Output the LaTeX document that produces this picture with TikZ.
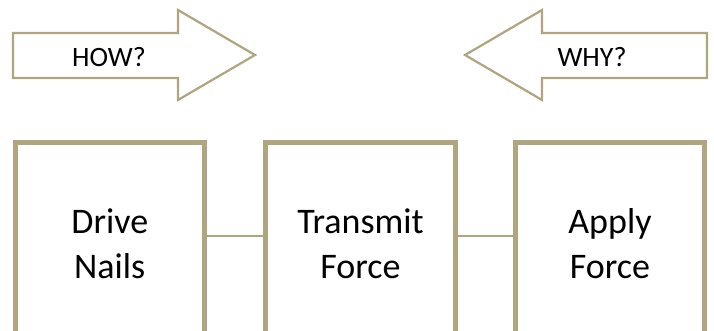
\documentclass[tikz,border=0pt]{standalone}
\usepackage{fontspec}
\setmainfont{Carlito}
\definecolor{tan}{RGB}{176,165,126}
\begin{document}
\begin{tikzpicture}[x=1pt,y=-1pt,
  boxnode/.style={draw=tan,line width=5pt,minimum width=189.5pt,minimum height=202pt,
    align=center,inner sep=0pt,font=\fontsize{36}{45}\selectfont},
  link/.style={draw=tan,line width=2.5pt},
  bigarrow/.style={draw=tan,line width=2.2pt,fill=white,line join=miter},
  arrowtext/.style={anchor=base,font=\fontsize{28}{32}\selectfont,inner sep=0pt}]
\useasboundingbox (0,0) rectangle (714,331);
\clip (0,0) rectangle (714,331);
% arrows
\draw[bigarrow] (13,33) -- (178,33) -- (178,10) -- (255,55) -- (178,100) -- (178,78) -- (13,78) -- cycle;
\draw[bigarrow] (707,33) -- (542,33) -- (542,10) -- (465,55) -- (542,100) -- (542,78) -- (707,78) -- cycle;
\node[arrowtext] (how) at (109,67) {HOW?};
\node[arrowtext] (why) at (592,67) {WHY?};
% boxes
\node[boxnode] (b1) at (109.75,243.5) {Drive\\Nails};
\node[boxnode] (b2) at (360.5,243.5) {Transmit\\Force};
\node[boxnode] (b3) at (610,243.5) {Apply\\Force};
\draw[link] ([yshift=7.5pt]b1.east) -- ([yshift=7.5pt]b2.west);
\draw[link] ([yshift=7.5pt]b2.east) -- ([yshift=7.5pt]b3.west);
\end{tikzpicture}
\end{document}
